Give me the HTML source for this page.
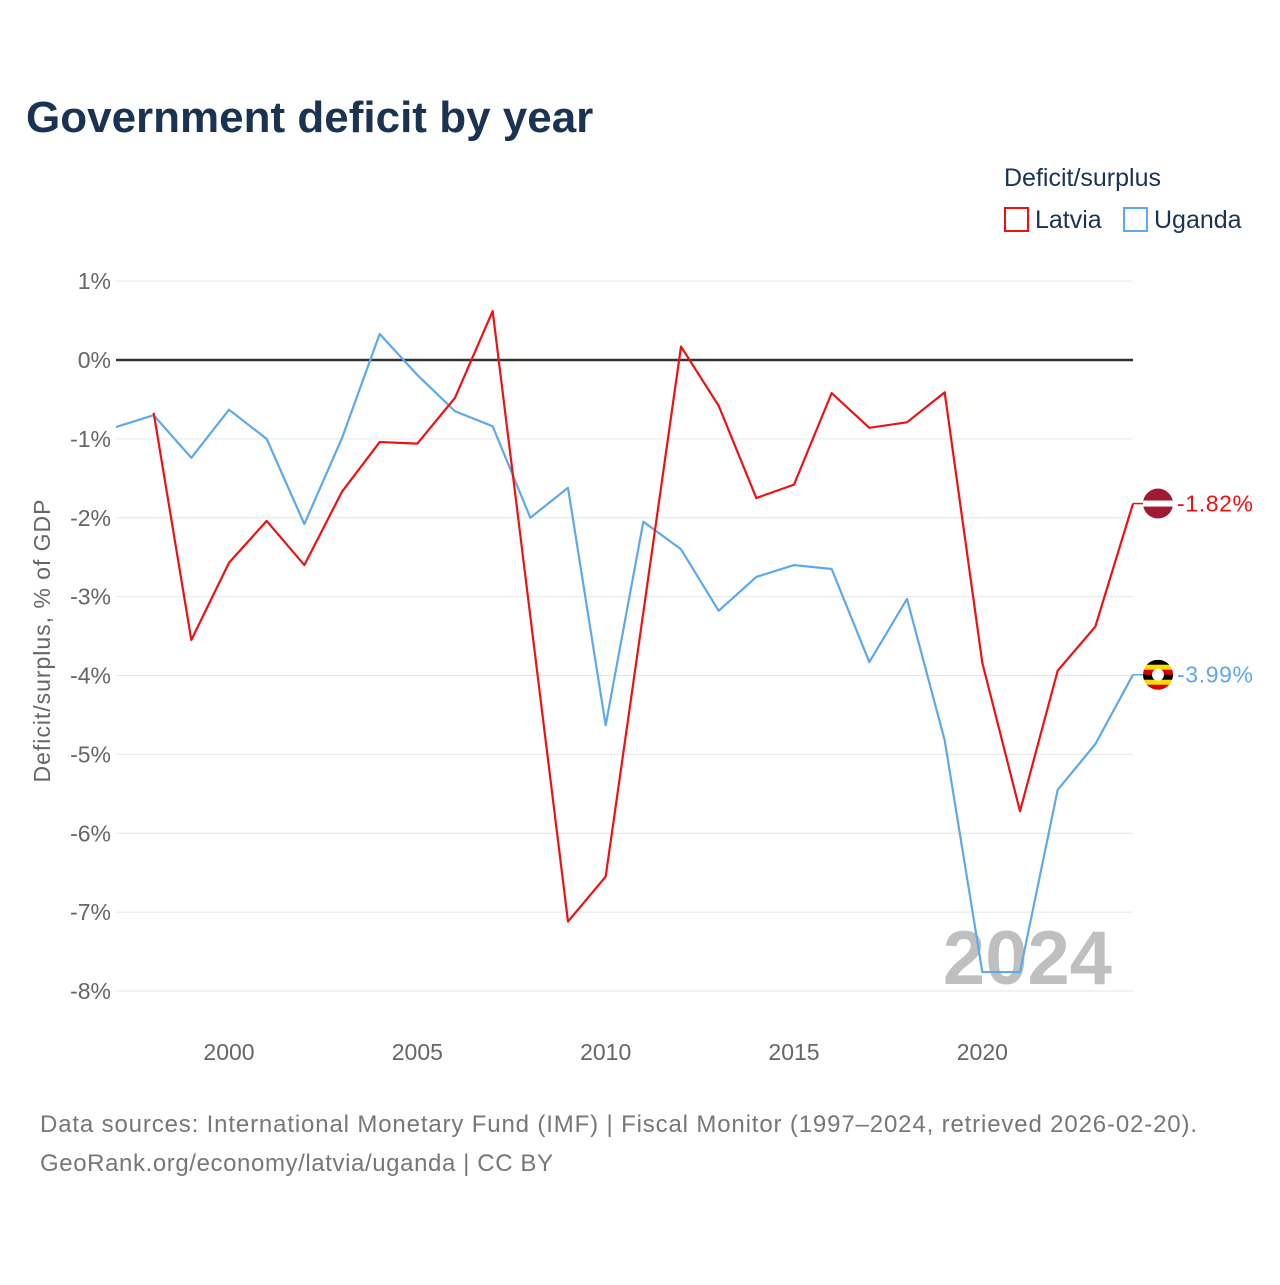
<!DOCTYPE html>
<html><head><meta charset="utf-8"><style>
body{margin:0;background:#fff;font-family:"Liberation Sans",sans-serif}
svg text{font-family:"Liberation Sans",sans-serif}
</style></head><body>
<svg id="c" width="1280" height="1280" viewBox="0 0 1280 1280">
<rect width="1280" height="1280" fill="#fff"/>
<text x="26" y="132" font-size="44" font-weight="bold" fill="#1a3352">Government deficit by year</text>
<text x="1004" y="186" font-size="25" fill="#1a3352">Deficit/surplus</text>
<g><rect x="1005" y="208" width="23" height="23" fill="none" stroke="#ee1111" stroke-width="2"/><text x="1035" y="228" font-size="25" fill="#1a3352">Latvia</text></g>
<g><rect x="1124" y="208" width="23" height="23" fill="none" stroke="#5ea8ec" stroke-width="2"/><text x="1154" y="228" font-size="25" fill="#1a3352">Uganda</text></g>
<g id="grid"></g><g id="yt"></g><g id="xt"></g>
<text x="1112" y="984" font-size="76" font-weight="bold" fill="#bfbfbf" text-anchor="end">2024</text>
<g id="lines"></g>
<text transform="translate(50,641) rotate(-90)" font-size="23" fill="#666" text-anchor="middle" textLength="283">Deficit/surplus, % of GDP</text>
<text x="40" y="1132" font-size="24" fill="#777" textLength="1157">Data sources: International Monetary Fund (IMF) | Fiscal Monitor (1997–2024, retrieved 2026-02-20).</text>
<text x="40" y="1171" font-size="24" fill="#777" textLength="513">GeoRank.org/economy/latvia/uganda | CC BY</text>
</svg>
<script>
const yTicks=[1,0,-1,-2,-3,-4,-5,-6,-7,-8];
const xTicks=[2000,2005,2010,2015,2020];
const latviaYears=[1998,1999,2000,2001,2002,2003,2004,2005,2006,2007,2008,2009,2010,2011,2012,2013,2014,2015,2016,2017,2018,2019,2020,2021,2022,2023,2024];
const latviaValues=[-0.67,-3.55,-2.57,-2.04,-2.6,-1.67,-1.04,-1.06,-0.48,0.62,-3.25,-7.12,-6.55,-3.2,0.17,-0.58,-1.75,-1.58,-0.42,-0.86,-0.79,-0.41,-3.84,-5.72,-3.94,-3.38,-1.82];
const ugandaYears=[1997,1998,1999,2000,2001,2002,2003,2004,2005,2006,2007,2008,2009,2010,2011,2012,2013,2014,2015,2016,2017,2018,2019,2020,2021,2022,2023,2024];
const ugandaValues=[-0.85,-0.7,-1.24,-0.63,-1.0,-2.08,-0.99,0.33,-0.19,-0.65,-0.84,-2.0,-1.62,-4.63,-2.05,-2.4,-3.18,-2.75,-2.6,-2.65,-3.83,-3.03,-4.82,-7.76,-7.76,-5.45,-4.87,-3.99];
const X=y=>116+(y-1997)*(1133-116)/27;
const Y=v=>360-v*78.875;
const NS="http://www.w3.org/2000/svg";
function mk(t,a,p){const e=document.createElementNS(NS,t);for(const k in a)e.setAttribute(k,a[k]);p.appendChild(e);return e;}
const grid=document.getElementById('grid'),yt=document.getElementById('yt'),xt=document.getElementById('xt'),lines=document.getElementById('lines');
yTicks.forEach(v=>{
 const l=mk('line',{x1:116,x2:1133,y1:Y(v),y2:Y(v),stroke:v===0?'#333':'#e6e6e6','stroke-width':v===0?2.5:1},grid);
 
 
 const t=mk('text',{x:111,y:Y(v)+8,'font-size':23,fill:'#666','text-anchor':'end'},yt);t.textContent=v+'%';
 
 
});
xTicks.forEach(y=>{
 const t=mk('text',{x:X(y),y:1060,'font-size':23,fill:'#666','text-anchor':'middle'},xt);t.textContent=y;
 
 
});
function series(yrs,vals,col,name){
 const p=mk('polyline',{points:yrs.map((y,i)=>X(y)+','+Y(vals[i])).join(' '),fill:'none',stroke:col,'stroke-width':2.2,'stroke-linejoin':'round'},lines);
 
 
 const lv=vals[vals.length-1],ly=Y(lv),lx=X(yrs[yrs.length-1]);
 mk('line',{x1:lx,x2:lx+12,y1:ly,y2:ly,stroke:col,'stroke-width':1.5},lines);
 const g=mk('g',{},lines);
 
 
 const cx=lx+25,r=15;
 mk('clipPath',{id:'cp'+name},g).appendChild(mk('circle',{cx:cx,cy:ly,r:r},document.createElementNS(NS,'g')));
 const cols=name==='latvia'?['#9e1b32','#9e1b32','#fff','#9e1b32','#9e1b32']:['#000','#fcdc04','#d90000','#000','#fcdc04','#d90000'];
 const cg=mk('g',{'clip-path':'url(#cp'+name+')'},g);
 const h=2*r/cols.length;
 cols.forEach((c,i)=>mk('rect',{x:cx-r,y:ly-r+i*h,width:2*r,height:h+0.5,fill:c},cg));
 if(name==='uganda')mk('circle',{cx:cx,cy:ly,r:6,fill:'#fff'},cg);
 const t=mk('text',{x:lx+44,y:ly+8,'font-size':23,fill:col,textLength:76},lines);t.textContent=lv.toFixed(2)+'%';
 
 
}
series(ugandaYears,ugandaValues,'#5ea8ec','uganda');
series(latviaYears,latviaValues,'#ee1111','latvia');
</script>
</body></html>
